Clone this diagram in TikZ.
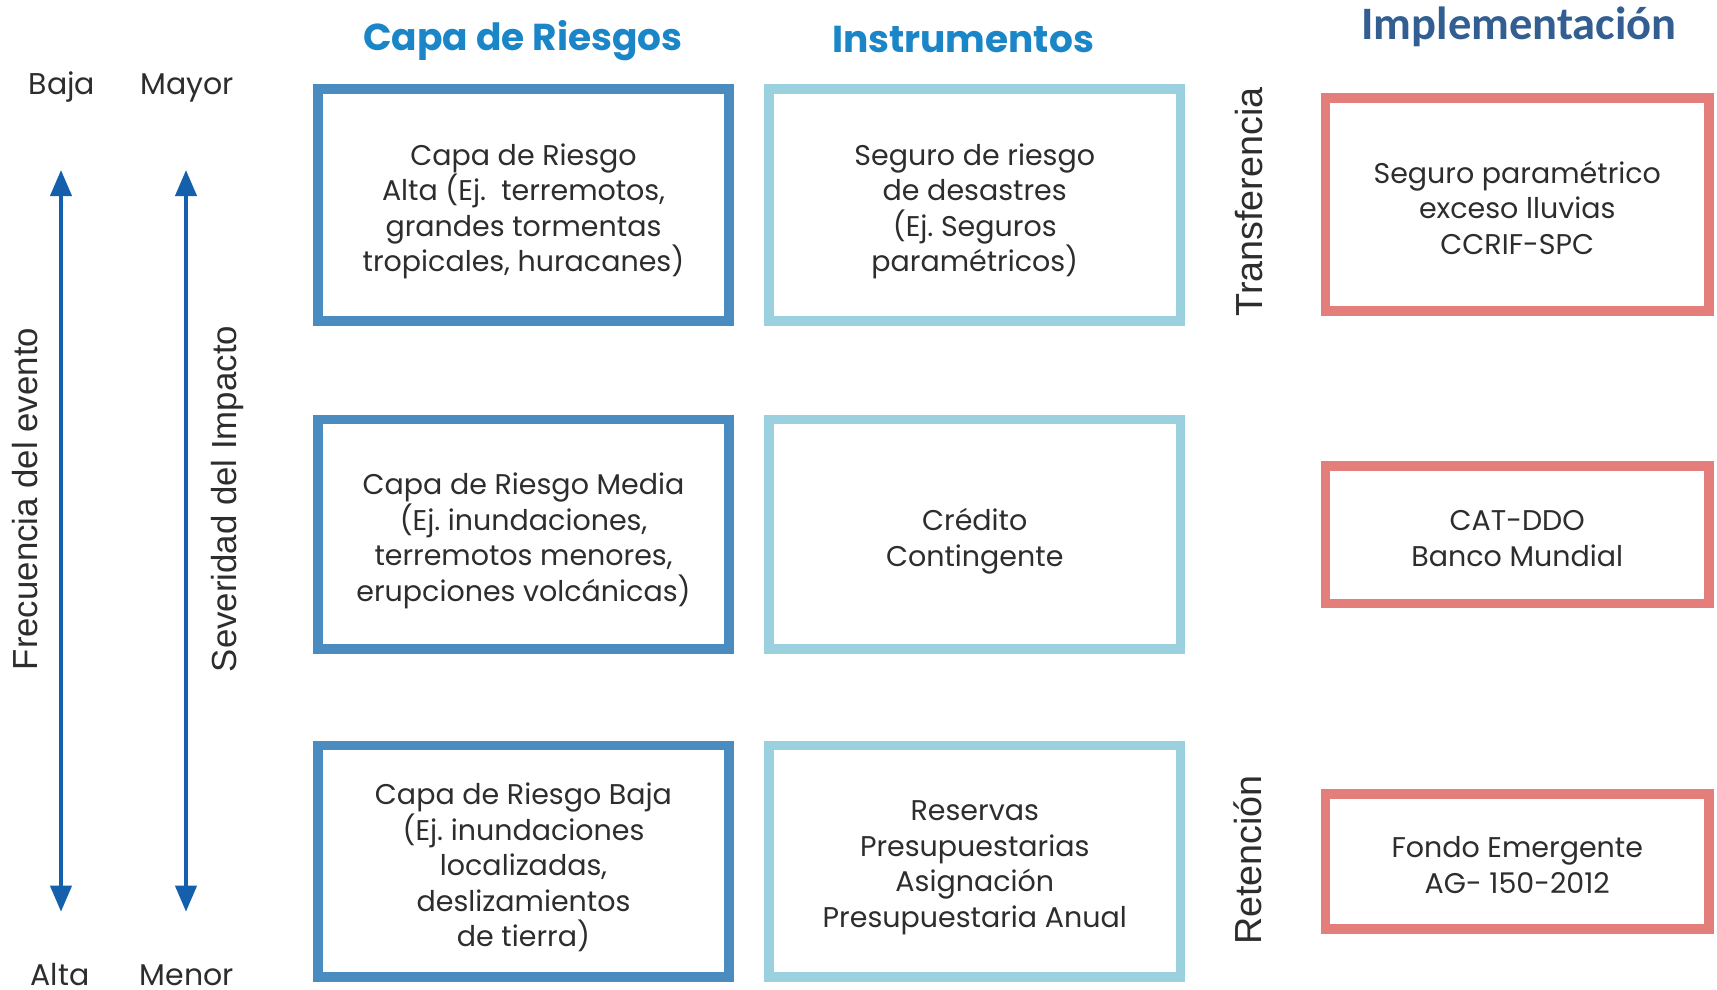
\documentclass[tikz,border=0pt]{standalone}
\usepackage{fontspec}
\setmainfont{Poppins}
\newfontfamily\arialf{Liberation Sans}
\newfontfamily\calibf{Carlito}
\usetikzlibrary{arrows.meta}
\definecolor{capablue}{RGB}{74,139,192}
\definecolor{instblue}{RGB}{155,208,222}
\definecolor{implred}{RGB}{228,126,123}
\definecolor{arrowblue}{RGB}{21,96,172}
\definecolor{titleblue}{RGB}{26,134,200}
\definecolor{impltitle}{RGB}{51,94,146}
\definecolor{txtgray}{RGB}{45,45,45}
\frenchspacing
\begin{document}
\begin{tikzpicture}[x=1pt,y=-1pt,
  boxbase/.style={line width=9.5pt, inner sep=0pt},
  capabox/.style={boxbase, draw=capablue, minimum width=411pt},
  instbox/.style={boxbase, draw=instblue, minimum width=411.5pt},
  implbox/.style={boxbase, draw=implred, minimum width=383.5pt},
  boxtext/.style={inner sep=0pt, align=center, text=txtgray,
    font=\fontsize{28.5}{35.5}\selectfont},
  coltitle/.style={text=titleblue, font=\fontsize{37.5}{42}\selectfont\bfseries},
  endlabel/.style={anchor=base, inner sep=0pt, text=txtgray, font=\fontsize{30}{36}\selectfont},
  sidelabel/.style={anchor=base, rotate=90, text=txtgray, font=\arialf\fontsize{34.8}{40}\selectfont},
  phaselabel/.style={anchor=base, rotate=90, text=txtgray, font=\arialf\fontsize{37.7}{42}\selectfont},
  scalearrow/.style={draw=arrowblue, line width=4pt,
    {Triangle[width=21pt,length=26pt]}-{Triangle[width=21pt,length=26pt]}}
]
\useasboundingbox (0,0) rectangle (1717,990);
\fill[white] (0,0) rectangle (1717,990);

% column titles
\node[coltitle] (tcapa) at (523,41) {Capa de Riesgos};
\node[coltitle] (tinst) at (963,39) {Instrumentos};
\node[text=impltitle, font=\calibf\fontsize{46.5}{50}\selectfont\bfseries] (timpl) at (1519,27) {Implementación};

% scale labels
\node[endlabel] (baja) at (62,95) {Baja};
\node[endlabel] (mayor) at (187,95) {Mayor};
\node[endlabel] (alta) at (60,985) {Alta};
\node[endlabel] (menor) at (187,985) {Menor};

% arrows
\coordinate (fTop) at (61,170);
\coordinate (fBot) at (61,911.7);
\coordinate (sTop) at (186,170);
\coordinate (sBot) at (186,911.7);
\draw[scalearrow] (fTop) -- (fBot);
\draw[scalearrow] (sTop) -- (sBot);

\node[sidelabel] (frec) at (37,499) {Frecuencia del evento};
\node[sidelabel] (sev) at (236,499) {Severidad del Impacto};

% Capa de riesgos column
\node[capabox, minimum height=232pt] (c1) at (523.5,205) {};
\node[capabox, minimum height=229.3pt] (c2) at (523.5,534.3) {};
\node[capabox, minimum height=231.5pt] (c3) at (523.5,861.3) {};
\node[boxtext] (c1t) at ([yshift=-6.5pt]c1.center)
  {Capa de Riesgo\\Alta (Ej.\ \ terremotos,\\grandes tormentas\\tropicales, huracanes)};
\node[boxtext] (c2t) at ([yshift=-6.5pt]c2.center)
  {Capa de Riesgo Media\\(Ej. inundaciones,\\terremotos menores,\\erupciones volcánicas)};
\node[boxtext] (c3t) at ([yshift=-6pt]c3.center)
  {Capa de Riesgo Baja\\(Ej. inundaciones\\localizadas,\\deslizamientos\\de tierra)};

% Instrumentos column
\node[instbox, minimum height=232pt] (i1) at (974.75,205) {};
\node[instbox, minimum height=229.3pt] (i2) at (974.75,534.3) {};
\node[instbox, minimum height=231.5pt] (i3) at (974.75,861.3) {};
\node[boxtext] (i1t) at ([yshift=-6.5pt]i1.center)
  {Seguro de riesgo\\de desastres\\(Ej. Seguros\\paramétricos)};
\node[boxtext] (i2t) at ([yshift=-7pt]i2.center)
  {Crédito\\Contingente};
\node[boxtext] (i3t) at ([yshift=-6.5pt]i3.center)
  {Reservas\\Presupuestarias\\Asignación\\Presupuestaria Anual};

% phase labels
\node[phaselabel] (transf) at (1262,202) {Transferencia};
\node[phaselabel] (reten) at (1261,860) {Retención};

% Implementacion column
\node[implbox, minimum height=213.2pt] (r1) at (1517.25,204.4) {};
\node[implbox, minimum height=137.5pt] (r2) at (1517.25,534.75) {};
\node[implbox, minimum height=135pt] (r3) at (1517.25,861.5) {};
\node[boxtext] (r1t) at ([yshift=-3.5pt]r1.center)
  {Seguro paramétrico\\exceso lluvias\\CCRIF-SPC};
\node[boxtext] (r2t) at ([yshift=-4pt]r2.center)
  {CAT-DDO\\Banco Mundial};
\node[boxtext] (r3t) at ([yshift=-3.5pt]r3.center)
  {Fondo Emergente\\AG- 150-2012};
\end{tikzpicture}
\end{document}
